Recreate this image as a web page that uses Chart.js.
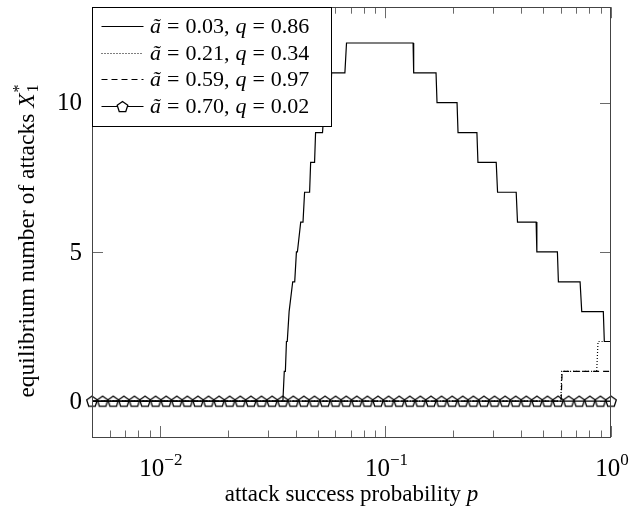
<!DOCTYPE html>
<html>
<head>
<meta charset="utf-8">
<script src="https://cdn.jsdelivr.net/npm/chart.js@4/dist/chart.umd.min.js"></script>
<style>
html,body{margin:0;padding:0;background:#fff;}
canvas{display:block;}
</style>
</head>
<body>
<canvas id="c" width="640" height="512"></canvas>
<script>
// ---------- data ----------
const aTilde = [0.03, 0.21, 0.59, 0.70];
const qVals  = [0.86, 0.34, 0.97, 0.02];

const pSolid = [0.005, 0.0351, 0.0356, 0.0360, 0.0364, 0.0367, 0.0374, 0.0376, 0.0388, 0.0396,
                0.0403, 0.0407, 0.0421, 0.0431, 0.0438, 0.0461, 0.0466, 0.0485, 0.0490, 0.0526,
                0.0537, 0.0571, 0.0577, 0.0661, 0.0672, 0.1326, 0.1334, 0.1676, 0.1693, 0.2077,
                0.2098, 0.2544, 0.2571, 0.3098, 0.3141, 0.3799, 0.3850, 0.4657, 0.4691, 0.5786,
                0.5845, 0.7293, 0.7418, 0.9246, 0.9341, 1];
const xSolid = [0, 0, 1, 1, 2, 2, 3, 3, 4, 4,
                5, 5, 6, 6, 7, 7, 8, 8, 9, 9,
                10, 10, 11, 11, 12, 12, 11, 11, 10, 10,
                9, 9, 8, 8, 7, 7, 6, 6, 5, 5,
                4, 4, 3, 3, 2, 2];

const pDotted = [0.005, 0.599, 0.605, 0.864, 0.876, 1];
const xDotted = [0, 0, 1, 1, 2, 2];

const pDashed = [0.005, 0.601, 0.607, 1];
const xDashed = [0, 0, 1, 1];

const pMarks = [0.00500, 0.00557, 0.00621, 0.00692, 0.00771, 0.00859, 0.00957, 0.01066, 0.01188, 0.01323,
                0.01474, 0.01643, 0.01830, 0.02039, 0.02272, 0.02532, 0.02821, 0.03143, 0.03502, 0.03902,
                0.04347, 0.04844, 0.05397, 0.06013, 0.06700, 0.07465, 0.08317, 0.09267, 0.10325, 0.11504,
                0.12818, 0.14282, 0.15913, 0.17730, 0.19755, 0.22011, 0.24524, 0.27325, 0.30445, 0.33922,
                0.37796, 0.42112, 0.46921, 0.52279, 0.58249, 0.64901, 0.72312, 0.80570, 0.89771, 1.00000];
const xMarks = [0,0,0,0,0,0,0,0,0,0, 0,0,0,0,0,0,0,0,0,0, 0,0,0,0,0,0,0,0,0,0,
                0,0,0,0,0,0,0,0,0,0, 0,0,0,0,0,0,0,0,0,0];

const xMajorTicks = [0.01, 0.1, 1];
const xMinorTicks = [0.006, 0.007, 0.008, 0.009, 0.02, 0.03, 0.04, 0.05, 0.06, 0.07, 0.08, 0.09,
                     0.2, 0.3, 0.4, 0.5, 0.6, 0.7, 0.8, 0.9];
const yTicks = [0, 5, 10];

const xTitle = 'attack success probability ';
const yTitle = 'equilibrium number of attacks ';

// ---------- helpers ----------
const SERIF = '"Liberation Serif", "DejaVu Serif", serif';
const zip = (px, py) => px.map((v, i) => ({x: v, y: py[i]}));

function pentagon(ctx, cx, cy, r) {
  ctx.beginPath();
  for (let k = 0; k < 5; k++) {
    const a = -Math.PI / 2 + k * 2 * Math.PI / 5;
    const X = cx + r * Math.cos(a), Y = cy + r * Math.sin(a);
    if (k === 0) ctx.moveTo(X, Y); else ctx.lineTo(X, Y);
  }
  ctx.closePath();
}
const PR = 5.6;
function pentagonCanvas(r) {
  const s = 16;
  const c = document.createElement('canvas');
  c.width = s; c.height = s;
  const g = c.getContext('2d');
  g.strokeStyle = '#000'; g.lineWidth = 1.25;
  pentagon(g, s / 2, s / 2 + 0.5, r);
  g.stroke();
  return c;
}
const penta = pentagonCanvas(PR);

function drawPieces(ctx, pieces, x, y, align) {
  let total = 0;
  pieces.forEach(p => { ctx.font = p.font; p.w = ctx.measureText(p.t).width + (p.gap || 0); total += p.w; });
  let cx = align === 'center' ? x - total / 2 : (align === 'right' ? x - total : x);
  pieces.forEach(p => {
    ctx.font = p.font;
    ctx.fillText(p.t, cx, y + (p.dy || 0));
    cx += p.w;
  });
  return total;
}

// ---------- decorations plugin ----------
const deco = {
  id: 'deco',
  beforeDatasetsDraw(chart) {
    const {ctx, chartArea: a, scales: {x, y}} = chart;
    ctx.save();
    ctx.strokeStyle = '#6a6a6a';
    ctx.lineWidth = 1;
    ctx.beginPath();
    const tick = (v, len) => {
      const px = Math.round(x.getPixelForValue(v)) + 0.5;
      ctx.moveTo(px, a.bottom); ctx.lineTo(px, a.bottom - len);
      ctx.moveTo(px, a.top); ctx.lineTo(px, a.top + len);
    };
    xMinorTicks.forEach(v => tick(v, 6.5));
    xMajorTicks.forEach(v => tick(v, 11));
    yTicks.forEach(v => {
      const py = Math.round(y.getPixelForValue(v)) + 0.5;
      ctx.moveTo(a.left, py); ctx.lineTo(a.left + 11, py);
      ctx.moveTo(a.right, py); ctx.lineTo(a.right - 11, py);
    });
    ctx.stroke();
    ctx.restore();
  },
  afterDatasetsDraw(chart) {
    const {ctx, chartArea: a, scales: {x, y}} = chart;
    ctx.save();
    // frame
    ctx.strokeStyle = '#444';
    ctx.lineWidth = 1;
    ctx.strokeRect(Math.round(a.left) + 0.5, Math.round(a.top) + 0.5,
                   Math.round(a.right - a.left) - 1, Math.round(a.bottom - a.top));
    ctx.fillStyle = '#000';
    // x tick labels
    ctx.textBaseline = 'alphabetic';
    xMajorTicks.forEach(v => {
      const px = x.getPixelForValue(v);
      const e = Math.round(Math.log10(v));
      drawPieces(ctx, [
        {t: '10', font: '25px ' + SERIF},
        {t: (e < 0 ? '\u2212' : '') + Math.abs(e), font: '17px ' + SERIF, dy: -11}
      ], px + 1, 476, 'center');
    });
    // y tick labels
    ctx.textBaseline = 'middle';
    ctx.textAlign = 'left';
    yTicks.forEach(v => {
      const py = y.getPixelForValue(v);
      drawPieces(ctx, [{t: String(v), font: '25px ' + SERIF}], 82, py + 1, 'right');
    });
    // x title
    ctx.textBaseline = 'alphabetic';
    drawPieces(ctx, [
      {t: xTitle, font: '23px ' + SERIF},
      {t: 'p', font: 'italic 23px ' + SERIF}
    ], (a.left + a.right) / 2, 501, 'center');
    // y title
    ctx.save();
    ctx.translate(34, 241);
    ctx.rotate(-Math.PI / 2);
    const yPieces = [
      {t: yTitle, font: '23.5px ' + SERIF},
      {t: 'X', font: 'italic 23.5px ' + SERIF, gap: 1},
      {t: '1', font: '16px ' + SERIF, dy: 4},
    ];
    const tot = drawPieces(ctx, yPieces, 0, 0, 'center');
    ctx.font = '16px ' + SERIF;
    ctx.fillText('*', -tot / 2 + yPieces[0].w + yPieces[1].w, -10);
    ctx.restore();

    // legend
    const L = {x0: 92.5, y0: 7.5, x1: 331.5, y1: 126.5};
    ctx.fillStyle = '#fff';
    ctx.fillRect(L.x0, L.y0, L.x1 - L.x0, L.y1 - L.y0);
    ctx.strokeStyle = '#000';
    ctx.lineWidth = 1;
    ctx.strokeRect(L.x0, L.y0, L.x1 - L.x0, L.y1 - L.y0);
    const rows = [26, 52.7, 79.3, 106];
    const F = '22px ' + SERIF, FI = 'italic 22px ' + SERIF;
    chart.data.datasets.forEach((ds, i) => {
      const ry = Math.round(rows[i]) + 0.5;
      ctx.save();
      ctx.strokeStyle = '#000';
      ctx.lineWidth = ds.borderWidth;
      ctx.setLineDash(ds.borderDash || []);
      ctx.beginPath();
      ctx.moveTo(101.5, ry); ctx.lineTo(143.5, ry);
      ctx.stroke();
      ctx.setLineDash([]);
      if (i === 3) {
        ctx.lineWidth = 1.25;
        pentagon(ctx, 122.5, ry + 0.5, PR);
        ctx.fillStyle = '#fff';
        ctx.fill();
        ctx.stroke();
      }
      ctx.restore();
      ctx.fillStyle = '#000';
      ctx.textBaseline = 'middle';
      drawPieces(ctx, [
        {t: '\u00e3', font: FI, gap: 6},
        {t: '=', font: F, gap: 6},
        {t: aTilde[i].toFixed(2) + ',', font: F, gap: 6},
        {t: 'q', font: FI, gap: 6},
        {t: '=', font: F, gap: 6},
        {t: qVals[i].toFixed(2), font: F}
      ], 150, ry + 1, 'left');
    });
    ctx.restore();
  }
};

// ---------- chart ----------
new Chart(document.getElementById('c'), {
  type: 'line',
  data: {
    datasets: [
      {label: 'solid', data: zip(pSolid, xSolid), borderColor: '#000', borderWidth: 1.2,
       pointRadius: 0, order: 3},
      {label: 'dotted', data: zip(pDotted, xDotted), borderColor: '#000', borderWidth: 1.2,
       borderDash: [1, 2], pointRadius: 0, order: 2},
      {label: 'dashed', data: zip(pDashed, xDashed), borderColor: '#000', borderWidth: 1.2,
       borderDash: [6, 4], pointRadius: 0, order: 1},
      {label: 'marks', data: zip(pMarks, xMarks), borderColor: '#000', borderWidth: 1.2,
       pointStyle: penta, pointRadius: 6, order: 0}
    ]
  },
  options: {
    responsive: false,
    animation: false,
    events: [],
    clip: false,
    layout: {padding: {left: 92, right: 29, top: 7, bottom: 75}},
    elements: {line: {tension: 0, fill: false}},
    scales: {
      x: {type: 'logarithmic', min: 0.005, max: 1, display: false},
      y: {type: 'linear', min: -1.2, max: 13.2, display: false}
    },
    plugins: {legend: {display: false}, tooltip: {enabled: false}}
  },
  plugins: [deco]
});
</script>
</body>
</html>
